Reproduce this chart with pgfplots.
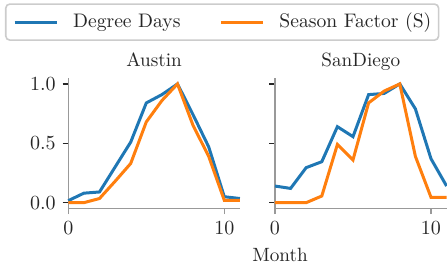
\documentclass[border=0pt]{standalone}
\usepackage{pgfplots}
\pgfplotsset{compat=1.18}
\definecolor{tabblue}{HTML}{1F77B4}
\definecolor{taborange}{HTML}{FF7F0E}
\definecolor{txt}{gray}{0.15}
\definecolor{spine}{gray}{0.6}
\pgfplotstableread{
m dd s
0 0.017 0.0
1 0.08 0.0
2 0.09 0.035
3 0.30 0.18
4 0.51 0.33
5 0.84 0.68
6 0.91 0.86
7 1.0 1.0
8 0.74 0.65
9 0.47 0.39
10 0.05 0.02
11 0.035 0.02
}\austin
\pgfplotstableread{
m dd s
0 0.14 0.0
1 0.12 0.0
2 0.295 0.0
3 0.345 0.056
4 0.64 0.49
5 0.556 0.36
6 0.91 0.84
7 0.92 0.94
8 1.0 1.0
9 0.79 0.39
10 0.37 0.045
11 0.14 0.045
}\sandiego
\pgfplotsset{
  myax/.style={
    scale only axis, width=85.8pt, height=65.3pt,
    xmin=0, xmax=11, ymin=-0.05, ymax=1.05,
    axis lines=left, axis line style={-, spine, line width=0.7pt},
    xtick={0,10}, ytick={0,0.5,1},
    yticklabel style={/pgf/number format/fixed, /pgf/number format/precision=1, /pgf/number format/fixed zerofill},
    tick align=outside, major tick length=2.8pt,
    tick style={spine, line width=0.7pt},
    ytick style={txt},
    tick label style={font=\fontsize{9.6}{11}\selectfont, text=txt},
    every axis title shift=0pt,
    title style={at={(0.5,1)}, anchor=base, yshift=5.7pt, font=\fontsize{9.6}{11}\selectfont, text=txt},
    every axis plot/.append style={line width=1.5pt},
    clip=false,
  }
}
\begin{document}
\begin{tikzpicture}
\begin{axis}[myax, at={(34.15pt,-104.3pt)}, anchor=south west, title={Austin},
  legend columns=2,
  legend image code/.code={\draw[#1] (0pt,0pt) -- (21pt,0pt);},
  legend style={at={(-0.3689,1.5720)}, anchor=north west, draw=black!20, line width=0.8pt,
    rounded corners=2pt, fill=white, inner xsep=3.65pt, inner ysep=4pt,
    font=\fontsize{9.8}{11}\selectfont, text=txt,
    nodes={inner sep=0pt, text depth=0.25em, text height=0.75em},
    /tikz/every odd column/.append style={column sep=7.5pt},
    /tikz/every even column/.append style={column sep=19.5pt}},
]
\addplot[tabblue] table[x=m, y=dd] {\austin};
\addlegendentry{Degree Days}
\addplot[taborange] table[x=m, y=s] {\austin};
\addlegendentry{Season Factor (S)}
\end{axis}
\begin{axis}[myax, at={(137.5pt,-104.3pt)}, anchor=south west, title={SanDiego}, yticklabels={}]
\addplot[tabblue] table[x=m, y=dd] {\sandiego};
\addplot[taborange] table[x=m, y=s] {\sandiego};
\end{axis}
\node[anchor=base, text=txt, font=\fontsize{9.6}{11}\selectfont] at (140pt,-130.6pt) {Month};
\pgfresetboundingbox
\path (0,0) rectangle (223.5pt,-131.5pt);
\end{tikzpicture}
\end{document}
